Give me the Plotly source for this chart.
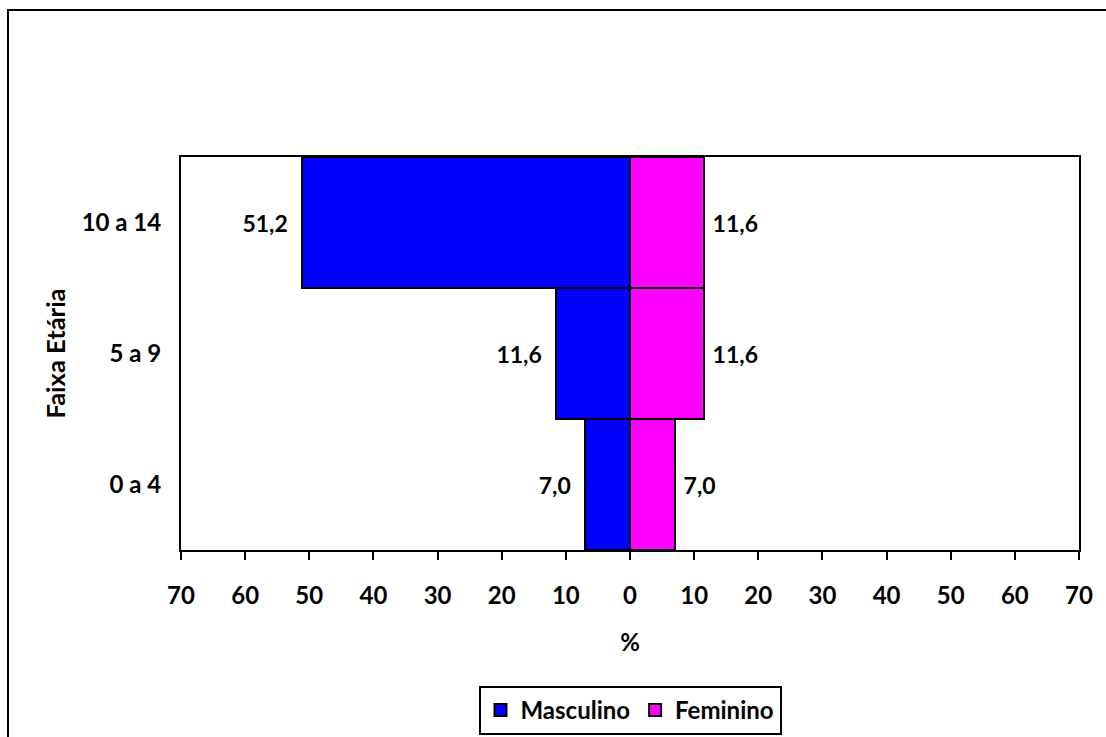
import plotly.graph_objects as go

# Age groups (bottom to top) and percentages per sex
faixas = ["0 a 4", "5 a 9", "10 a 14"]
masculino = [7.0, 11.6, 51.2]
feminino = [7.0, 11.6, 11.6]

tick_vals = [-70, -60, -50, -40, -30, -20, -10, 0, 10, 20, 30, 40, 50, 60, 70]
tick_text = [str(abs(v)) for v in tick_vals]


def fmt(v):
    return f"{v:.1f}".replace(".", ",")


W, H = 1106, 737
L, R, T, B = 181, 27, 157, 187
pw, ph = W - L - R, H - T - B
FS = 24
TITLE_FONT = dict(family="Lato", size=25.5, color="black", weight="bold")

fig = go.Figure()
fig.add_trace(go.Bar(
    y=faixas, x=[-v for v in masculino], orientation="h", name="Masculino",
    marker=dict(color="#0000FF", line=dict(color="black", width=2)),
    text=[fmt(v) + "  " for v in masculino], textposition="outside",
    textfont=dict(size=FS - 1, color="black"), constraintext="none",
    cliponaxis=False, hoverinfo="skip",
))
fig.add_trace(go.Bar(
    y=faixas, x=feminino, orientation="h", name="Feminino",
    marker=dict(color="#FF00FF", line=dict(color="black", width=2)),
    text=[" " + fmt(v) for v in feminino], textposition="outside",
    textfont=dict(size=FS - 1, color="black"), constraintext="none",
    cliponaxis=False, hoverinfo="skip",
))

# outer chart frame
fig.add_shape(type="rect", xref="paper", yref="paper",
              x0=(8 - L) / pw, x1=(W + 10 - L) / pw,
              y0=(T + ph - 10) / ph, y1=-(B + 10) / ph,
              line=dict(color="black", width=2), layer="below")

fig.update_layout(
    width=W, height=H,
    margin=dict(l=L, r=R, t=T, b=B, pad=0, autoexpand=False),
    paper_bgcolor="white", plot_bgcolor="white",
    font=dict(family="Lato", size=FS, color="black", weight="bold"),
    barmode="relative", bargap=0,
    showlegend=True,
    legend=dict(orientation="h", x=0.5, xanchor="center", y=-(686 - 550) / ph,
                yanchor="top", bordercolor="black", borderwidth=2,
                font=dict(size=FS), traceorder="normal"),
    xaxis=dict(range=[-70, 70], tickvals=tick_vals, ticktext=tick_text,
               showgrid=False, zeroline=False, showline=True, linecolor="black",
               linewidth=2, mirror=True, ticks="outside", ticklen=8, tickwidth=2,
               tickcolor="black", ticklabelstandoff=15, automargin=False,
               title=dict(text="%", standoff=26,
                          font=dict(TITLE_FONT, size=24))),
    yaxis=dict(showgrid=False, zeroline=False, showline=True, linecolor="black",
               linewidth=2, mirror=True, ticks="", ticklabelstandoff=13,
               automargin=False,
               title=dict(text="Faixa Etária", standoff=9, font=TITLE_FONT)),
)

fig.write_html("out.html")
